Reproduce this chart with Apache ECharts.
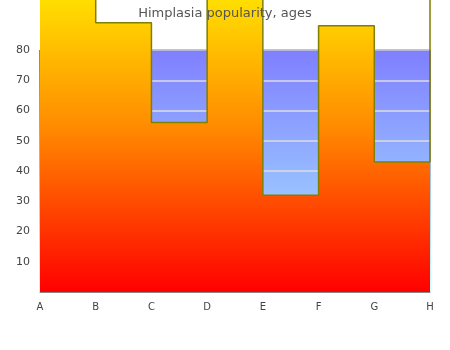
<!DOCTYPE html>
<html>
<head>
<meta charset="utf-8">
<script src="https://cdn.jsdelivr.net/npm/echarts@6/dist/echarts.min.js"></script>
<style>html,body{margin:0;padding:0;background:#fff}#c{width:450px;height:350px}</style>
</head>
<body>
<div id="c"></div>
<script>
var categories = ['A', 'B', 'C', 'D', 'E', 'F', 'G', 'H'];
var popularity = [100, 89, 56, 100, 32, 88, 43, 100];
var yTicks = [0, 10, 20, 30, 40, 50, 60, 70, 80];

var chart = echarts.init(document.getElementById('c'));
var G = echarts.graphic.LinearGradient;
chart.setOption({
  animation: false,
  title: {
    text: 'Himplasia popularity, ages',
    left: 'center',
    top: 2,
    textStyle: { fontFamily: 'DejaVu Sans', fontSize: 13, fontWeight: 'normal', color: '#555' }
  },
  grid: {
    left: 40, right: 20, top: 50, bottom: 58,
    show: true,
    backgroundColor: new G(0, 0, 0, 1, [
      { offset: 0, color: '#7f7fff' },
      { offset: 1, color: '#aaeeff' }
    ]),
    borderWidth: 1,
    borderColor: new G(0, 0, 0, 1, [
      { offset: 0, color: '#000088' },
      { offset: 1, color: '#88ffff' }
    ])
  },
  xAxis: {
    type: 'category',
    data: categories,
    boundaryGap: false,
    axisLine: { show: true, lineStyle: { color: '#888', width: 1 } },
    axisTick: { show: false },
    axisLabel: { color: '#444', fontFamily: 'DejaVu Sans', fontSize: 10, margin: 10 },
    splitLine: { show: false }
  },
  yAxis: {
    type: 'value',
    min: yTicks[0],
    max: yTicks[yTicks.length - 1],
    interval: 10,
    axisLine: { show: true, lineStyle: { color: '#888', width: 1 } },
    axisTick: { show: false },
    axisLabel: {
      color: '#444', fontFamily: 'DejaVu Sans', fontSize: 11, margin: 10,
      showMinLabel: false,
      formatter: function (v) { return v === 0 ? '' : String(v); }
    },
    splitLine: { show: true, lineStyle: { color: '#dddddd', width: 1.5 } }
  },
  series: [{
    type: 'line',
    data: popularity,
    step: 'end',
    clip: false,
    showSymbol: false,
    symbol: 'none',
    lineStyle: { color: '#808000', width: 1.5 },
    areaStyle: {
      opacity: 1,
      color: new G(0, 0, 0, 1, [
        { offset: 0, color: '#ffe500' },
        { offset: 0.45, color: '#ff8c00' },
        { offset: 1, color: '#ff0000' }
      ])
    }
  }]
});
</script>
</body>
</html>
